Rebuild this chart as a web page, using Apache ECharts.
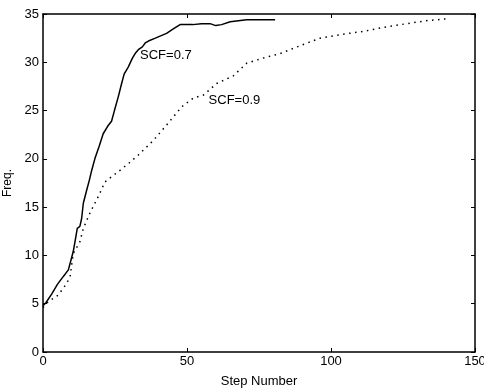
<!DOCTYPE html>
<html>
<head>
<meta charset="utf-8">
<script src="https://cdn.jsdelivr.net/npm/echarts@6/dist/echarts.min.js"></script>
<style>
  html, body { margin: 0; padding: 0; background: #fff; }
  #chart { width: 484px; height: 390px; }
</style>
</head>
<body>
<div id="chart"></div>
<script>
// step number / freq pairs
const scf07 = [
  [0, 4.8], [1, 5.1], [3, 6.0], [5, 7.0], [7, 7.8], [8.8, 8.5], [9.7, 9.5],
  [10.5, 10.4], [11.1, 11.4], [11.9, 12.8], [12.8, 13.0], [13.4, 13.8],
  [14, 15.4], [15.2, 16.8], [16.1, 17.8], [16.9, 18.8], [18, 20.0],
  [19.5, 21.3], [20.9, 22.6], [22.5, 23.4], [23.8, 23.9], [24.8, 25.0],
  [26.2, 26.5], [27.3, 27.8], [28.2, 28.8], [29.6, 29.5], [31, 30.4],
  [32.2, 31.0], [33.1, 31.3], [34.5, 31.6], [35.5, 32.0], [36.6, 32.2],
  [39, 32.5], [42.9, 33.0], [45.5, 33.5], [47.6, 33.9], [52, 33.9],
  [55, 34.0], [58, 34.0], [60, 33.8], [62, 33.9], [65, 34.2],
  [70.7, 34.4], [75, 34.4], [80.6, 34.4]
];
const scf09 = [
  [0, 4.6], [1.8, 5.2], [5.3, 5.9], [8, 7.0], [9.4, 7.8], [10.5, 10.2],
  [12.8, 11.4], [14, 12.8], [16.3, 14.4], [19.2, 16.1], [21.5, 17.6],
  [24, 18.2], [26.7, 18.8], [30, 19.6], [33.1, 20.4], [38.3, 21.9],
  [42.9, 23.5], [48.2, 25.4], [52.2, 26.3], [55.7, 26.6], [60.3, 27.8],
  [66.1, 28.6], [70.7, 29.9], [76, 30.4], [82.3, 30.9], [90, 31.8],
  [96.2, 32.5], [104, 32.9], [111.2, 33.2], [118, 33.6], [126.3, 34.0],
  [133, 34.3], [140.2, 34.5]
];
const curveLabels = ['SCF=0.7', 'SCF=0.9'];
const labelAt = [[33.7, 30.7], [57.5, 26.0]];

const xTicks = [0, 50, 100, 150];
const yTicks = [0, 5, 10, 15, 20, 25, 30, 35];

const font = 'Liberation Sans, Arial, sans-serif';
const black = '#000';

const chart = echarts.init(document.getElementById('chart'));

const baseX = {
  type: 'value', min: xTicks[0], max: xTicks[xTicks.length - 1], interval: xTicks[1] - xTicks[0],
  axisLine: { show: true, onZero: false, lineStyle: { color: black, width: 1.5 } },
  axisTick: { show: true, inside: true, length: 4, lineStyle: { color: black } },
  splitLine: { show: false }
};
const baseY = {
  type: 'value', min: yTicks[0], max: yTicks[yTicks.length - 1], interval: yTicks[1] - yTicks[0],
  axisLine: { show: true, onZero: false, lineStyle: { color: black, width: 1.5 } },
  axisTick: { show: true, inside: true, length: 4, lineStyle: { color: black } },
  splitLine: { show: false }
};

chart.setOption({
  animation: false,
  backgroundColor: '#fff',
  grid: { left: 43, right: 9, top: 14, bottom: 38, show: false, containLabel: false, outerBoundsMode: 'none' },
  xAxis: [
    Object.assign({}, baseX, {
      position: 'bottom',
      name: 'Step Number', nameLocation: 'middle', nameGap: 23,
      nameTextStyle: { fontFamily: font, fontSize: 13, color: black },
      axisLabel: { fontFamily: font, fontSize: 13, color: black, margin: 3 }
    }),
    Object.assign({}, baseX, { position: 'top', axisLabel: { show: false } })
  ],
  yAxis: [
    Object.assign({}, baseY, {
      position: 'left',
      name: 'Freq.', nameLocation: 'middle', nameGap: 27,
      nameTextStyle: { fontFamily: font, fontSize: 12, color: black },
      axisLabel: { fontFamily: font, fontSize: 13, color: black, margin: 4 }
    }),
    Object.assign({}, baseY, { position: 'right', axisLabel: { show: false } })
  ],
  series: [
    {
      name: curveLabels[0], type: 'line', data: scf07, showSymbol: false,
      lineStyle: { color: black, width: 1.5 }
    },
    {
      name: curveLabels[1], type: 'line', data: scf09, showSymbol: false,
      lineStyle: { color: black, width: 1.5, type: [1.5, 4.5] }
    },
    {
      type: 'scatter', symbolSize: 0, silent: true,
      data: labelAt.map((p, i) => ({ value: p, name: curveLabels[i] })),
      label: {
        show: true, position: 'right', distance: 0,
        formatter: p => p.name,
        fontFamily: font, fontSize: 13, color: black, opacity: 1
      }
    }
  ]
});
</script>
</body>
</html>
